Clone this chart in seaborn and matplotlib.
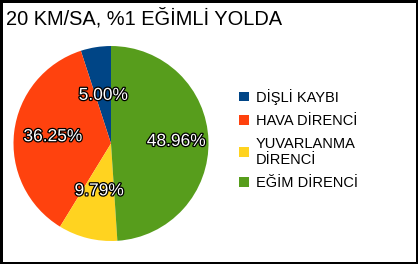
import matplotlib
matplotlib.use("Agg")
import matplotlib.pyplot as plt
import matplotlib.patheffects as pe
import numpy as np
import seaborn as sns

title = "20 KM/SA, %1 EĞİMLİ YOLDA"
categories = ["DİŞLİ KAYBI", "HAVA DİRENCİ", "YUVARLANMA\nDİRENCİ", "EĞİM DİRENCİ"]
values = [5.00, 36.25, 9.79, 48.96]
colors = ["#004586", "#ff420e", "#ffd320", "#579d1c"]
label_dist = [0.5, 0.6, 0.5, 0.67]

sns.set_theme(style="white")
plt.rcParams["font.family"] = ["Liberation Sans", "DejaVu Sans"]

fig = plt.figure(figsize=(4.18, 2.64), dpi=100)
fig.patch.set_facecolor("white")
fig.patch.set_edgecolor("black")
fig.patch.set_linewidth(2.2)

ax = fig.add_axes([0.0323, 0.0871, 0.4665, 0.7386])
wedges, texts, autotexts = ax.pie(
    values, colors=sns.color_palette(colors), startangle=90, counterclock=True,
    autopct="%.2f%%", pctdistance=0.6, radius=1.0,
    wedgeprops=dict(linewidth=0),
    textprops=dict(color="white", fontsize=12.5),
)
for w, t, d in zip(wedges, autotexts, label_dist):
    ang = np.deg2rad((w.theta1 + w.theta2) / 2)
    t.set_position((d * np.cos(ang), d * np.sin(ang)))
    t.set_path_effects([pe.withStroke(linewidth=1.8, foreground="black")])
ax.set_xlim(-1, 1)
ax.set_ylim(-1, 1)
ax.set_aspect("equal")
ax.axis("off")

fig.text(0.014, 1 - 18 / 264, title, fontsize=14.4, va="center", ha="left", color="black")

leg = fig.legend(wedges, categories, loc="center left", bbox_to_anchor=(0.541, 0.472),
                 frameon=False, fontsize=10.5, handlelength=0.65, handleheight=0.65,
                 handletextpad=0.5, labelspacing=0.62)
for t in leg.get_texts():
    t.set_color("black")

fig.savefig("out.png", dpi=100, facecolor=fig.get_facecolor(), edgecolor=fig.get_edgecolor())
